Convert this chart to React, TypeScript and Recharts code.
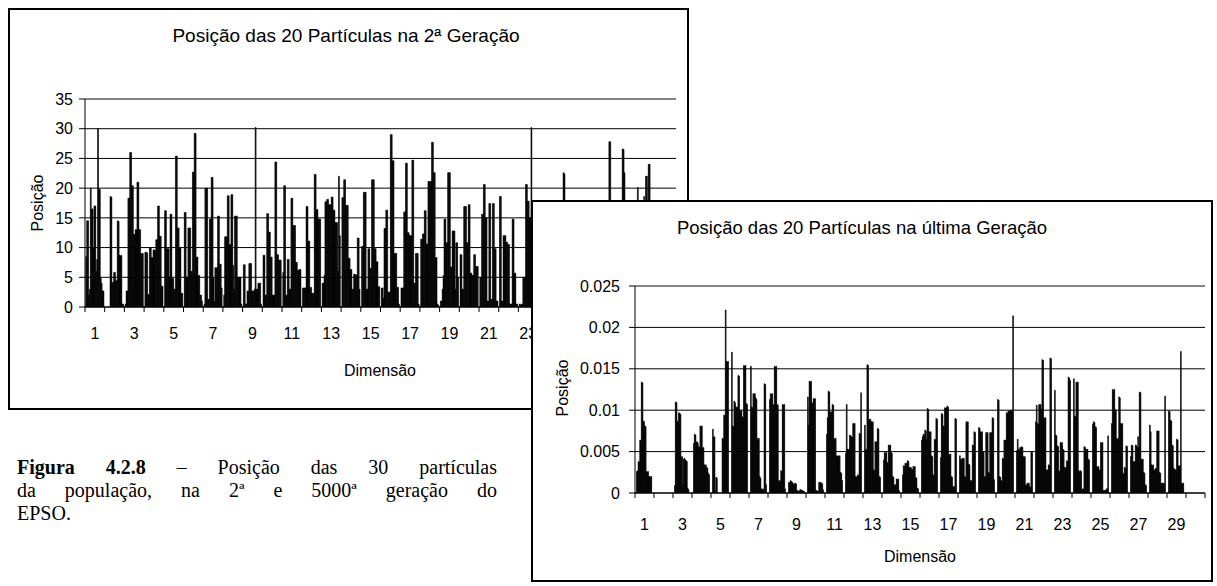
import React from 'react';
import { BarChart, Bar, XAxis, YAxis, CartesianGrid, ReferenceLine } from 'recharts';

const FONT = '"Liberation Sans", Arial, sans-serif';
const SERIF = '"Liberation Serif", "Times New Roman", serif';

const dimensionLabels = [1, 2, 3, 4, 5, 6, 7, 8, 9, 10, 11, 12, 13, 14, 15, 16, 17, 18, 19, 20, 21, 22, 23, 24, 25, 26, 27, 28, 29, 30];
const particleKeys = ['p1', 'p2', 'p3', 'p4', 'p5', 'p6', 'p7', 'p8', 'p9', 'p10', 'p11', 'p12', 'p13', 'p14', 'p15', 'p16', 'p17', 'p18', 'p19', 'p20'];

// ---- 2nd generation: position of the 20 particles in each dimension ----
const gen2Dim1 = [8.5, 14.5, 14.5, 2, 3, 20, 16.5, 16.5, 10, 17, 17, 6, 8, 30, 19.8, 19.8, 5, 4, 2.7, 2.7];
const gen2Dim2 = [0, 0, 0, 0, 0, 18.6, 18.5, 4, 4.2, 5.8, 5.8, 4.3, 4.5, 14.5, 14.4, 8.7, 8.6, 8.7, 0.5, 0.5];
const gen2Dim3 = [0.5, 2.7, 2.7, 18.3, 18.3, 26, 26, 20.4, 20.4, 12.2, 12.2, 13, 13, 21, 21, 13, 13, 9, 9, 9];
const gen2Dim4 = [9.2, 9.2, 9.1, 2.1, 2.1, 10, 10, 8.3, 8.3, 9.6, 9.6, 9.5, 11.3, 11.3, 17, 17, 11.9, 11.9, 3.5, 3.5];
const gen2Dim5 = [16.2, 16.2, 9.8, 9.8, 9.8, 5, 15.6, 15.6, 4.8, 4.8, 3, 3, 25.4, 25.4, 13.3, 13.3, 10, 10, 2.3, 2.3];
const gen2Dim6 = [15.9, 15.9, 5, 5, 13.3, 13.3, 13.3, 6, 6, 22.7, 22.7, 29.2, 29.2, 8.4, 8.4, 5.3, 5.3, 2, 2, 1];
const gen2Dim7 = [0.5, 20, 20, 20, 1.3, 1.3, 14.8, 14.8, 21.8, 21.8, 4.9, 1, 6.6, 6.6, 6.6, 15.3, 15.3, 7.2, 7.2, 3.2];
const gen2Dim8 = [2, 11.8, 11.8, 11.8, 18.7, 18.7, 10.5, 10.5, 18.9, 18.9, 7, 3, 15.3, 15.3, 15.3, 5, 5, 5, 5, 0.5];
const gen2Dim9 = [7.1, 7.1, 0.5, 0.5, 2.7, 2.7, 7.3, 7.3, 7.3, 2.7, 2.7, 2.7, 3, 30.2, 3, 3, 4, 4, 4, 0.5];
const gen2Dim10 = [8.7, 8.7, 2, 2, 15.7, 15.7, 12.6, 12.6, 8.4, 8.4, 2, 2, 2, 24.4, 24.4, 8.8, 8.8, 7.9, 7.9, 7.9];
const gen2Dim11 = [5.8, 20.4, 20.4, 2, 2, 8, 8, 3, 3, 18.3, 18.3, 13.7, 13.7, 13.7, 7.5, 7.5, 6.2, 6.2, 6.3, 6.3];
const gen2Dim12 = [3.2, 3.2, 3.2, 3.2, 16.9, 16.9, 11.1, 11.1, 3.3, 3.3, 2.3, 2.3, 2.3, 22.3, 22.3, 16.4, 16.4, 14.8, 14.8, 14.8];
const gen2Dim13 = [4, 4, 5.3, 17.7, 17.7, 18.1, 18.1, 17.2, 17.2, 17.2, 18.5, 18.5, 16.3, 16.3, 14.2, 14.2, 14.2, 6, 22, 12];
const gen2Dim14 = [18.4, 18.4, 21.4, 21.4, 17.1, 17.1, 17.1, 8.2, 8.2, 6.3, 6.3, 3, 3, 5.5, 5.5, 5.4, 5.4, 11.6, 11.6, 3];
const gen2Dim15 = [10.2, 10.2, 19.3, 19.3, 19.3, 3, 3, 9.8, 9.8, 6.5, 6.5, 21.4, 21.4, 21.4, 9.8, 9.8, 7.6, 7.6, 3.4, 3.4];
const gen2Dim16 = [3.2, 3.2, 1.5, 13.2, 13.2, 16.3, 16.3, 2.5, 2.5, 2.5, 29, 29, 24.6, 24.6, 9, 9, 9, 3.3, 3.3, 0.5];
const gen2Dim17 = [3.2, 3.2, 3.2, 16, 16, 24.2, 24.2, 12.5, 12.5, 12, 12, 12, 24.7, 24.7, 4, 4, 9, 9, 9, 0.5];
const gen2Dim18 = [11.4, 11.4, 12.3, 12.3, 16.2, 16.2, 10.6, 10.6, 21.1, 21.1, 21.1, 21.1, 27.7, 27.7, 22.6, 22.6, 8.3, 8.3, 0.5, 0.3];
const gen2Dim19 = [1, 1, 3, 5.3, 14.8, 14.8, 10.8, 10.8, 22.6, 22.6, 22.6, 6.7, 6.7, 12.8, 12.8, 12.8, 3, 10.8, 10.8, 5];
const gen2Dim20 = [8.8, 8.8, 3, 3, 16.9, 16.9, 16.9, 10.8, 10.8, 17.2, 17.2, 5.7, 5.7, 5.3, 5.3, 8.8, 8.8, 6.8, 6.8, 6.8];
const gen2Dim21 = [5, 5, 15.6, 15.6, 20.6, 20.6, 15, 15, 1, 1, 17.4, 17.4, 1.3, 1.3, 17.4, 17.4, 9.8, 9.8, 1, 1];
const gen2Dim22 = [18.6, 18.6, 1, 1, 12, 12, 12, 10.9, 10.9, 10.5, 10.5, 0.5, 0.5, 0.5, 14.8, 14.8, 5.7, 5.7, 0.5, 0.5];
const gen2Dim23 = [0.5, 0.3, 0.5, 0.4, 5, 5, 5, 20.6, 20.6, 17.8, 17.8, 15, 15, 30.2, 12, 8, 6, 10, 4, 3];
const gen2Dim24 = [5, 8, 12, 3, 15, 10, 6, 2, 9, 14, 7, 4, 11, 16, 3, 8, 12, 5, 2, 1];
const gen2Dim25 = [4, 9, 13, 6, 2, 22.6, 22.4, 8, 5, 14, 3, 11, 7, 15, 6, 2, 9, 12, 4, 1];
const gen2Dim26 = [10, 3, 7, 15, 12, 5, 9, 16, 4, 2, 13, 8, 6, 11, 17, 3, 7, 10, 5, 2];
const gen2Dim27 = [6, 12, 4, 9, 15, 3, 11, 7, 14, 2, 8, 13, 27.8, 27.8, 10, 6, 16, 4, 9, 3];
const gen2Dim28 = [3, 8, 14, 5, 11, 26.6, 26.5, 22.6, 4, 13, 7, 2, 12, 6, 15, 10, 3, 8, 5, 1];
const gen2Dim29 = [20.1, 7, 12, 5, 9, 14, 3, 18.6, 11, 22, 22, 8, 24, 24, 4, 10, 7, 2, 9, 3];
const gen2Dim30 = [9, 4, 13, 7, 2, 11, 15, 6, 10, 3, 8, 14, 5, 12, 7, 3, 16, 9, 4, 2];

// ---- last generation: position of the 20 particles (values in units of 0.001) ----
const lastDim1 = [2.6, 2.7, 3.8, 3.7, 6.4, 6.3, 13.4, 13.3, 8.7, 8.6, 8.1, 8.0, 2.6, 2.5, 2.6, 2.0, 2.0, 1.9, 2.0, 0];
const lastDim2 = [0, 0, 0, 0, 0, 0, 0, 0, 0, 0, 0, 0, 0, 0, 0, 0, 0, 0, 0, 0];
const lastDim3 = [0.9, 11.0, 10.9, 8.7, 8.5, 9.7, 9.6, 9.5, 4.3, 4.4, 1.0, 4.1, 4.2, 4.0, 3.9, 3.8, 0.6, 0.4, 0, 0];
const lastDim4 = [6.0, 7.1, 7.0, 6.1, 6.2, 6.0, 5.6, 5.5, 8.1, 8.0, 8.1, 5.4, 5.5, 3.4, 3.3, 3.4, 3.1, 3.0, 2.4, 2.2];
const lastDim5 = [7.7, 6.7, 6.8, 0.2, 1.9, 1.8, 0, 0, 0, 0, 0, 0, 6.6, 6.5, 9.4, 9.4, 22.1, 15.9, 15.8, 15.9];
const lastDim6 = [17.0, 8.1, 8.0, 11.1, 10.9, 10.4, 10.3, 10.4, 14.2, 14.1, 10.0, 9.8, 10.0, 9.2, 9.0, 15.4, 15.3, 15.4, 10.8, 10.7];
const lastDim7 = [15.3, 10.4, 10.3, 12.0, 11.9, 12.0, 11.5, 11.3, 6.6, 6.4, 6.6, 2.0, 1.8, 0.5, 0.4, 0.5, 0.3, 13.2, 13.1, 1.0];
const lastDim8 = [11.3, 12.0, 11.9, 12.0, 10.7, 10.6, 15.3, 15.2, 15.3, 10.7, 10.6, 1.5, 1.4, 1.5, 2.7, 2.6, 10.7, 10.6, 10.7, 0.5];
const lastDim9 = [1.3, 1.2, 1.5, 1.4, 1.3, 1.2, 1.0, 1.1, 1.2, 1.1, 0.3, 0.3, 0.2, 0.2, 0.4, 0.4, 0.3, 0.3, 0.2, 0.2];
const lastDim10 = [11.6, 8.2, 13.5, 13.4, 13.5, 10.9, 10.8, 11.4, 11.3, 11.4, 0.3, 0.3, 0.2, 0.2, 1.3, 1.2, 1.3, 1.2, 1.1, 0.4];
const lastDim11 = [7.1, 9.1, 12.3, 12.2, 9.8, 9.7, 9.8, 10.7, 10.6, 6.6, 6.4, 6.6, 4.5, 4.4, 4.5, 4.4, 4.5, 2.5, 2.4, 1.5];
const lastDim12 = [4.8, 10.7, 5.3, 5.2, 5.3, 7.0, 6.9, 6.8, 6.7, 8.4, 8.3, 8.4, 2.0, 1.9, 2.0, 2.2, 2.1, 7.2, 7.1, 12.1];
const lastDim13 = [8.2, 5.3, 5.2, 15.5, 15.4, 8.9, 8.8, 8.9, 8.6, 8.5, 8.6, 2.8, 2.7, 6.2, 6.1, 6.2, 7.8, 7.7, 2.0, 1.9];
const lastDim14 = [4.0, 4.9, 4.8, 4.9, 3.7, 3.6, 5.8, 5.7, 5.8, 4.9, 4.8, 2.0, 1.9, 1.0, 0.9, 1.0, 1.7, 1.6, 1.7, 0.3];
const lastDim15 = [2.2, 3.3, 3.2, 3.6, 3.5, 3.6, 3.9, 3.8, 3.1, 3.0, 3.1, 2.9, 2.8, 3.2, 3.1, 3.2, 1.9, 1.8, 0.6, 0.5];
const lastDim16 = [6.4, 6.8, 7.1, 7.0, 7.6, 7.5, 6.5, 10.2, 10.1, 7.4, 7.3, 7.4, 4.5, 4.4, 2.2, 2.1, 6.5, 6.4, 9.0, 8.9];
const lastDim17 = [4.3, 9.6, 9.5, 8.1, 8.0, 10.3, 10.2, 10.3, 10.5, 10.4, 4.7, 4.6, 4.7, 2.0, 1.9, 0.8, 0.7, 0.8, 9.0, 8.9];
const lastDim18 = [4.5, 4.1, 4.0, 4.2, 4.1, 4.2, 2.0, 1.9, 8.6, 8.5, 8.6, 3.5, 3.4, 1.5, 1.4, 1.5, 5.8, 5.7, 7.4, 7.3];
const lastDim19 = [7.9, 7.8, 7.4, 7.3, 7.4, 5.0, 4.9, 2.0, 1.9, 7.3, 7.2, 7.3, 2.5, 2.4, 7.3, 7.2, 7.3, 9.1, 9.0, 1.6];
const lastDim20 = [11.3, 11.2, 2.0, 1.9, 1.5, 1.4, 4.2, 4.1, 6.4, 6.3, 6.4, 9.7, 9.6, 9.9, 9.8, 9.9, 10.0, 9.9, 10.0, 21.4];
const lastDim21 = [5.1, 6.5, 5.3, 5.2, 5.5, 5.4, 5.6, 5.5, 4.4, 4.3, 4.4, 1.0, 0.9, 1.2, 1.1, 1.2, 0.8, 0.7, 5.0, 4.9];
const lastDim22 = [8.6, 10.6, 8.4, 8.3, 10.7, 10.6, 10.7, 10.1, 16.1, 16.0, 9.1, 9.0, 9.1, 2.8, 2.7, 2.8, 3.4, 3.3, 16.3, 16.2];
const lastDim23 = [12.4, 7.0, 6.9, 5.7, 5.6, 2.7, 2.6, 6.1, 6.0, 6.1, 5.3, 5.2, 3.1, 3.0, 3.1, 3.9, 3.8, 14.0, 13.9, 13.6];
const lastDim24 = [13.8, 9.3, 9.2, 13.4, 13.3, 13.4, 2.7, 2.6, 2.7, 2.6, 0.5, 0.4, 0.5, 5.6, 5.5, 5.3, 5.2, 5.3, 4.1, 4.0];
const lastDim25 = [8.3, 8.6, 8.5, 8.0, 7.9, 3.2, 3.1, 3.2, 2.8, 2.7, 6.1, 6.0, 6.1, 0.3, 0.3, 0.3, 0.3, 0.5, 0.5, 6.9];
const lastDim26 = [8.4, 12.5, 12.4, 12.5, 10.1, 10.0, 6.6, 6.5, 6.6, 11.6, 11.5, 8.4, 8.3, 8.4, 2.4, 2.3, 3.1, 3.0, 5.7, 5.6];
const lastDim27 = [4.4, 5.8, 5.7, 3.8, 3.7, 3.8, 5.8, 5.7, 5.5, 6.8, 5.5, 12.2, 12.1, 4.1, 4.0, 4.1, 2.5, 2.4, 1.0, 0.9];
const lastDim28 = [8.2, 7.4, 3.4, 3.3, 3.4, 2.8, 2.7, 3.0, 2.9, 7.5, 7.4, 7.5, 2.5, 2.4, 1.2, 1.1, 1.2, 1.2, 1.1, 11.7];
const lastDim29 = [9.9, 9.8, 8.8, 8.7, 5.8, 5.7, 3.0, 2.9, 2.8, 2.7, 6.5, 6.4, 3.3, 3.2, 3.3, 17.1, 1.2, 1.1, 1.2, 0];
const lastDim30 = [0, 0, 0, 0, 0, 0, 0, 0, 0, 0, 0, 0, 0, 0, 0, 0, 0, 0, 0, 0];

const gen2Dims = [gen2Dim1, gen2Dim2, gen2Dim3, gen2Dim4, gen2Dim5, gen2Dim6, gen2Dim7, gen2Dim8, gen2Dim9, gen2Dim10,
  gen2Dim11, gen2Dim12, gen2Dim13, gen2Dim14, gen2Dim15, gen2Dim16, gen2Dim17, gen2Dim18, gen2Dim19, gen2Dim20,
  gen2Dim21, gen2Dim22, gen2Dim23, gen2Dim24, gen2Dim25, gen2Dim26, gen2Dim27, gen2Dim28, gen2Dim29, gen2Dim30];
const lastDims = [lastDim1, lastDim2, lastDim3, lastDim4, lastDim5, lastDim6, lastDim7, lastDim8, lastDim9, lastDim10,
  lastDim11, lastDim12, lastDim13, lastDim14, lastDim15, lastDim16, lastDim17, lastDim18, lastDim19, lastDim20,
  lastDim21, lastDim22, lastDim23, lastDim24, lastDim25, lastDim26, lastDim27, lastDim28, lastDim29, lastDim30];

const gen2Ticks = [0, 5, 10, 15, 20, 25, 30, 35];
const lastTicks = [0, 5, 10, 15, 20, 25]; // in units of 0.001

function buildRows(dims: number[][]) {
  return dimensionLabels.map((d, i) => {
    const row: Record<string, number> = { dim: d };
    particleKeys.forEach((k, j) => {
      row[k] = dims[i][j];
    });
    return row;
  });
}

const gen2Rows = buildRows(gen2Dims);
const lastRows = buildRows(lastDims);

function CategoryTick(props: any) {
  const { x, y, payload, index, half, labelDy, count, labelLimit } = props;
  const h = payload && typeof payload.offset === 'number' && payload.offset > 0 ? payload.offset : half;
  return (
    <g>
      <line x1={x - h} y1={y} x2={x - h} y2={y + 5} stroke="#000" strokeWidth={1} />
      {index === count - 1 && <line x1={x + h} y1={y} x2={x + h} y2={y + 5} stroke="#000" strokeWidth={1} />}
      {index % 2 === 0 && index < labelLimit && (
        <text x={x} y={y + labelDy} dy="0.35em" textAnchor="middle" fontSize={16} fontFamily={FONT} fill="#000">
          {payload.value}
        </text>
      )}
    </g>
  );
}

type PanelProps = {
  rows: Record<string, number>[];
  width: number;
  height: number;
  margin: { top: number; right: number; bottom: number; left: number };
  yAxisWidth: number;
  yTicks: number[];
  yTickMargin: number;
  yFormatter?: (v: number) => string;
  half: number;
  labelDy: number;
  catGap: string;
  labelLimit: number;
};

function Panel(p: PanelProps) {
  const top = p.yTicks[p.yTicks.length - 1];
  return (
    <BarChart width={p.width} height={p.height} data={p.rows} margin={p.margin} barGap={0} barCategoryGap={p.catGap}>
      <CartesianGrid vertical={false} stroke="#000" strokeWidth={1} />
      <XAxis
        dataKey="dim"
        type="category"
        interval={0}
        height={30}
        tickSize={0}
        tickMargin={0}
        tickLine={false}
        axisLine={{ stroke: '#000' }}
        tick={(tp: any) => (
          <CategoryTick {...tp} half={p.half} labelDy={p.labelDy} count={p.rows.length} labelLimit={p.labelLimit} />
        )}
      />
      <YAxis
        type="number"
        domain={[0, top]}
        ticks={p.yTicks}
        interval={0}
        width={p.yAxisWidth}
        tickSize={6}
        tickMargin={p.yTickMargin}
        tickLine={{ stroke: '#000' }}
        axisLine={{ stroke: '#000' }}
        tick={{ fill: '#000', fontSize: 16, fontFamily: FONT }}
        tickFormatter={p.yFormatter}
        allowDataOverflow
      />
      <YAxis yAxisId="frame" orientation="right" type="number" domain={[0, top]} width={0} tick={false} tickLine={false} axisLine={{ stroke: '#888' }} />
      {particleKeys.map((k) => (
        <Bar key={k} dataKey={k} fill="#000" stroke="#000" strokeWidth={0.6} isAnimationActive={false} />
      ))}
      <ReferenceLine y={top} stroke="#888" strokeWidth={1} />
    </BarChart>
  );
}

const abs = (left: number, top: number, extra: React.CSSProperties = {}): React.CSSProperties => ({
  position: 'absolute',
  left,
  top,
  ...extra,
});

const centered = (x: number, y: number, size: number, rotate = false, family = FONT): React.CSSProperties => ({
  position: 'absolute',
  left: x,
  top: y,
  transform: `translate(-50%, -50%)${rotate ? ' rotate(-90deg)' : ''}`,
  fontFamily: family,
  fontSize: size,
  lineHeight: `${size}px`,
  whiteSpace: 'nowrap',
  color: '#000',
});

const captionLine: React.CSSProperties = {
  fontFamily: SERIF,
  fontSize: 20,
  lineHeight: '23px',
  width: 480,
  textAlign: 'justify',
  textAlignLast: 'justify' as any,
  color: '#000',
  whiteSpace: 'nowrap',
};

export default function App() {
  return (
    <div style={{ position: 'absolute', left: 0, top: 0, width: 1217, height: 586, background: '#fff', overflow: 'hidden' }}>
      {/* Chart 1 : 2nd generation */}
      <div style={abs(8, 8, { width: 681, height: 402, border: '2px solid #000', boxSizing: 'border-box', background: '#fff' })} />
      <div style={abs(10, 10)}>
        <Panel
          rows={gen2Rows}
          width={677}
          height={398}
          margin={{ top: 89, right: 11, bottom: 71, left: 0 }}
          yAxisWidth={75}
          yTicks={gen2Ticks}
          yTickMargin={6}
          half={9.85}
          labelDy={26.5}
          catGap="4%"
          labelLimit={23}
        />
      </div>
      <div style={centered(346, 35, 19)}>Posição das 20 Partículas na 2ª Geração</div>
      <div style={centered(380, 371, 16)}>Dimensão</div>
      <div style={centered(38, 203, 16, true)}>Posição</div>

      {/* Caption */}
      <div style={abs(17, 456)}>
        <div style={captionLine}>
          <b>Figura 4.2.8</b> – Posição das 30 partículas
        </div>
        <div style={captionLine}>da população, na 2ª e 5000ª geração do</div>
        <div style={{ ...captionLine, textAlignLast: 'left' as any }}>EPSO.</div>
      </div>

      {/* Chart 2 : last generation */}
      <div style={abs(531, 200, { width: 682, height: 382, border: '2px solid #000', boxSizing: 'border-box', background: '#fff' })} />
      <div style={abs(533, 202)}>
        <Panel
          rows={lastRows}
          width={676}
          height={374}
          margin={{ top: 84, right: 4, bottom: 53, left: 0 }}
          yAxisWidth={102}
          yTicks={lastTicks}
          yTickMargin={9}
          yFormatter={(v: number) => (v === 0 ? '0' : String(v / 1000))}
          half={9.5}
          labelDy={31}
          catGap="8%"
          labelLimit={30}
        />
      </div>
      <div style={centered(862, 228, 18.5)}>Posição das 20 Partículas na última Geração</div>
      <div style={centered(920, 557, 16)}>Dimensão</div>
      <div style={centered(563, 388, 16, true)}>Posição</div>
    </div>
  );
}
